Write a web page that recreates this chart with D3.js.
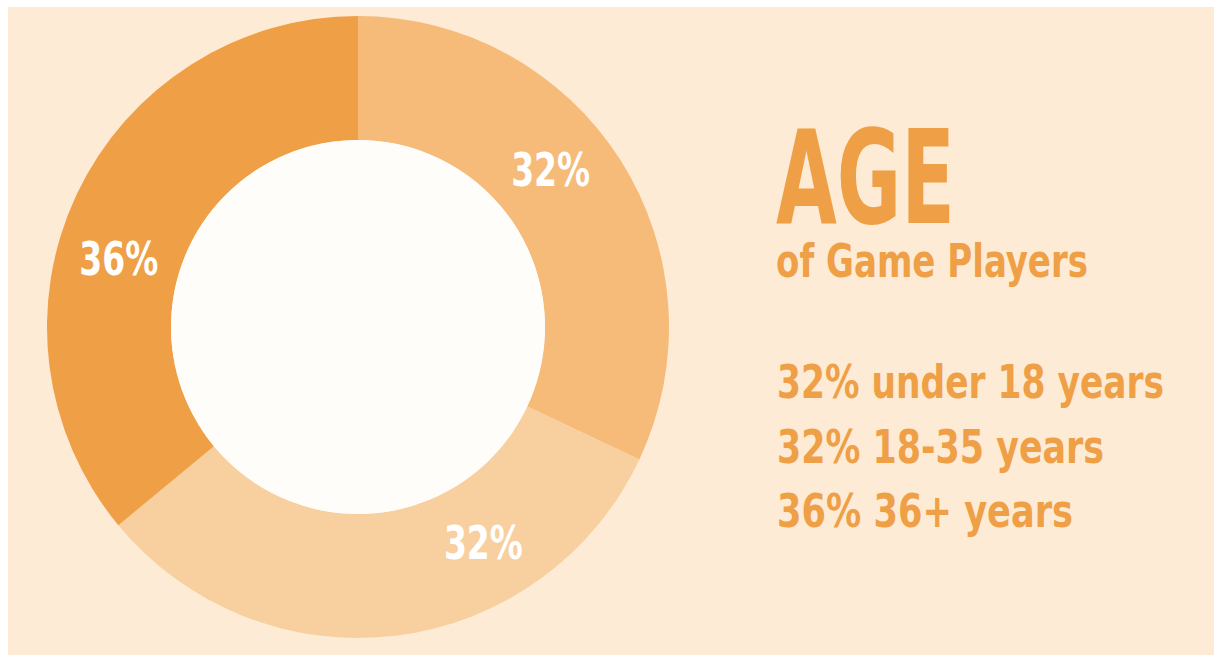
<!DOCTYPE html>
<html>
<head>
<meta charset="utf-8">
<script src="https://cdn.jsdelivr.net/npm/d3@7"></script>
<style>
  html, body { margin: 0; padding: 0; background: #ffffff; }
  svg { display: block; }
  text { font-family: "Liberation Sans Narrow", "DejaVu Sans Condensed", "Liberation Sans", sans-serif; font-weight: bold; }
</style>
</head>
<body>
<svg id="chart" width="1214" height="655"></svg>
<script>
// Age groups of game players (share of players, %)
const groups = ["under 18 years", "18-35 years", "36+ years"];
const shares = [32, 32, 36];
const sliceColors = ["#f6bb78", "#f8cf9e", "#ef9f45"];
// where each in-ring label sits along its slice (0 = start, 1 = end)
const labelAt = [0.44, 0.30, 0.43];

const svg = d3.select("#chart");
const W = 1214, H = 655;

// panel background
svg.append("rect")
  .attr("x", 8).attr("y", 7)
  .attr("width", W - 8).attr("height", H - 7)
  .attr("fill", "#fdebd5");

const cx = 358, cy = 327, rOuter = 311, rInner = 187;

const pie = d3.pie().sort(null).value(d => d);
const arcs = pie(shares);
const arc = d3.arc().innerRadius(rInner).outerRadius(rOuter);

const g = svg.append("g").attr("transform", `translate(${cx},${cy})`);

g.selectAll("path.slice")
  .data(arcs)
  .join("path")
  .attr("class", "slice")
  .attr("d", arc)
  .attr("fill", (d, i) => sliceColors[i]);

// hole of the donut
g.append("circle").attr("r", rInner).attr("fill", "#fffdf9");

// percentage labels inside the ring
const labelArc = d3.arc().innerRadius(rInner + 60).outerRadius(rOuter - 60);
g.selectAll("text.pct")
  .data(arcs)
  .join("text")
  .attr("class", "pct")
  .attr("transform", (d, i) => {
    const a = d.startAngle + (d.endAngle - d.startAngle) * labelAt[i];
    const [x, y] = labelArc.centroid({ startAngle: a, endAngle: a });
    return `translate(${x},${y})`;
  })
  .attr("text-anchor", "middle")
  .attr("dy", "0.36em")
  .attr("font-size", 47)
  .attr("textLength", 79)
  .attr("lengthAdjust", "spacingAndGlyphs")
  .attr("fill", "#ffffff")
  .text(d => d.data + "%");

// title block
const tx = 776;
const orange = "#ef9f45";
svg.append("text")
  .attr("x", tx).attr("y", 223)
  .attr("font-size", 130)
  .attr("textLength", 179)
  .attr("lengthAdjust", "spacingAndGlyphs")
  .attr("fill", orange)
  .text("AGE");

svg.append("text")
  .attr("x", tx).attr("y", 277)
  .attr("font-size", 47)
  .attr("textLength", 312)
  .attr("lengthAdjust", "spacingAndGlyphs")
  .attr("fill", orange)
  .text("of Game Players");

// legend lines
const lineWidths = [387, 327, 296];
const lineY = d3.scalePoint().domain(groups).range([398, 527]);
svg.selectAll("text.legend")
  .data(groups)
  .join("text")
  .attr("class", "legend")
  .attr("x", tx + 1)
  .attr("y", d => lineY(d))
  .attr("font-size", 47)
  .attr("textLength", (d, i) => lineWidths[i])
  .attr("lengthAdjust", "spacingAndGlyphs")
  .attr("fill", orange)
  .text((d, i) => `${shares[i]}% ${d}`);
</script>
</body>
</html>
